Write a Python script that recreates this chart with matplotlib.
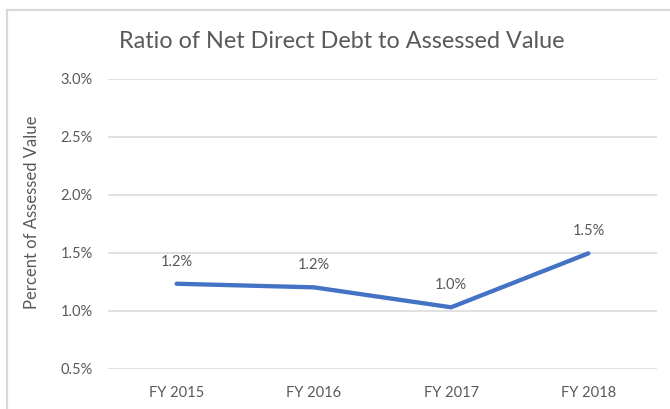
import matplotlib
matplotlib.use("Agg")
import matplotlib.pyplot as plt
from matplotlib.lines import Line2D
from matplotlib.ticker import FuncFormatter

categories = ["FY 2015", "FY 2016", "FY 2017", "FY 2018"]
values = [1.235, 1.204, 1.032, 1.497]
labels = ["1.2%", "1.2%", "1.0%", "1.5%"]
yticks = [0.5, 1.0, 1.5, 2.0, 2.5, 3.0]

FONT = "Lato"
GRAY = "#595959"
plt.rcParams["font.family"] = [FONT, "DejaVu Sans"]

W, H = 670, 409
fig = plt.figure(figsize=(W / 100, H / 100), dpi=100)
ax = fig.add_axes([108 / W, 1 - 369 / H, 549 / W, 290 / H])

x = list(range(len(categories)))
ax.plot(x, values, color="#4472C4", lw=3.1, solid_capstyle="round", solid_joinstyle="round", zorder=3)
for xi, v, lab in zip(x, values, labels):
    ax.annotate(lab, (xi, v), xytext=(0, 16), textcoords="offset points",
                ha="center", va="center", fontsize=10.5, color=GRAY)

ax.set_xlim(-0.5, len(categories) - 0.5)
ax.set_ylim(0.5, 3.0)
ax.set_yticks(yticks)
ax.yaxis.set_major_formatter(FuncFormatter(lambda v, p: f"{v:.1f}%"))
ax.set_xticks(x)
ax.set_xticklabels(categories)
ax.grid(axis="y", color="#D9D9D9", lw=1.1)
ax.set_axisbelow(True)
for s in ax.spines.values():
    s.set_visible(False)
ax.tick_params(axis="both", length=0, labelsize=10.5, labelcolor=GRAY)
ax.tick_params(axis="y", pad=11)
ax.tick_params(axis="x", pad=12)

ax.set_ylabel("Percent of Assessed Value", fontsize=12, color=GRAY)
ax.yaxis.set_label_coords(-0.124, 0.541)

fig.text(342 / W, 1 - 42 / H, "Ratio of Net Direct Debt to Assessed Value",
         ha="center", va="center", fontsize=16.8, color=GRAY)

# chart border (top and left visible)
bc = "#D9D9D9"
fig.add_artist(Line2D([6.5 / W, 1.0], [1 - 9.5 / H, 1 - 9.5 / H], transform=fig.transFigure, color=bc, lw=1.6))
fig.add_artist(Line2D([6.5 / W, 6.5 / W], [0, 1 - 9.5 / H], transform=fig.transFigure, color=bc, lw=1.6))

fig.savefig("out.png", dpi=100, facecolor="white")
